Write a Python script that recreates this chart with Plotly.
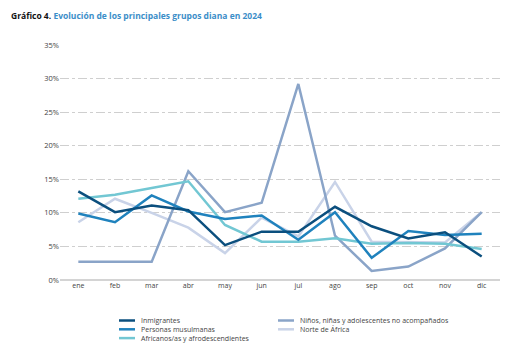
import plotly.graph_objects as go

months = ["ene", "feb", "mar", "abr", "may", "jun", "jul", "ago", "sep", "oct", "nov", "dic"]

inmigrantes = [13.2, 10.1, 11.1, 10.4, 5.2, 7.2, 7.2, 10.9, 8.0, 6.2, 7.1, 3.5]
musulmanas = [9.9, 8.6, 12.6, 10.2, 9.1, 9.6, 6.0, 10.1, 3.3, 7.3, 6.7, 6.9]
africanos = [12.1, 12.7, 13.7, 14.7, 8.2, 5.7, 5.7, 6.2, 5.4, 5.5, 5.4, 4.6]
ninos = [2.7, 2.7, 2.7, 16.2, 10.1, 11.5, 29.2, 6.6, 1.35, 2.0, 4.7, 10.1]
norte_africa = [8.6, 12.1, 10.0, 7.8, 4.0, 9.3, 6.5, 14.6, 5.7, 5.6, 5.6, 10.1]

series_names = ["Inmigrantes", "Personas musulmanas", "Africanos/as y afrodescendientes",
                "Niños, niñas y adolescentes no acompañados", "Norte de África"]
series_values = [inmigrantes, musulmanas, africanos, ninos, norte_africa]
series_colors = ["#0b4f7e", "#1f82bd", "#72c7d3", "#8aa4c8", "#c9d3e8"]

draw_order = [4, 3, 2, 1, 0]

fig = go.Figure()
for i in draw_order:
    fig.add_trace(go.Scatter(
        x=months, y=series_values[i], mode="lines", name=series_names[i],
        line=dict(color=series_colors[i], width=2.5), showlegend=False,
    ))

font_family = "Open Sans, Lato, sans-serif"

OFF = 8  # page body margin
W, H = 515 - OFF, 355 - OFF
L, T = 60 - OFF, 45 - OFF
R = W - (500 - OFF)
B = H - (280 - OFF)
pw, ph = W - L - R, H - T - B

def px2paper(x, y):
    # x, y in screen pixels of the target image
    return (x - OFF - L) / pw, (H - B - (y - OFF)) / ph

fig.update_layout(
    width=W, height=H,
    margin=dict(l=L, r=R, t=T, b=B, autoexpand=False),
    paper_bgcolor="white", plot_bgcolor="white",
    font=dict(family=font_family, size=7.5, color="#444"),
    xaxis=dict(
        type="category", range=[-0.5, 11.5],
        showgrid=False, showline=False, zeroline=False,
        ticks="", tickfont=dict(size=7, color="#444"),
    ),
    yaxis=dict(
        range=[0, 35], dtick=5, ticksuffix="%",
        showgrid=True, gridcolor="#cfcfcf", griddash="dashdot", gridwidth=1,
        zeroline=True, zerolinecolor="#d4d4d4", zerolinewidth=1.5,
        showline=False, ticks="", tickfont=dict(size=7.5, color="#444"),
    ),
    showlegend=False,
)

legend_slots = [(119, 320.5), (119, 329.3), (119, 338.1), (278, 320.5), (278, 329.3)]
for i, (lx, ly) in enumerate(legend_slots):
    x0, y0 = px2paper(lx, ly)
    x1, _ = px2paper(lx + 16, ly)
    fig.add_shape(type="line", xref="paper", yref="paper", x0=x0, x1=x1, y0=y0, y1=y0,
                  line=dict(color=series_colors[i], width=2.5))
    tx, _ = px2paper(lx + 20, ly)
    fig.add_annotation(xref="paper", yref="paper", x=tx, y=y0, xanchor="left", yanchor="middle",
                       showarrow=False, text=series_names[i],
                       font=dict(size=7, color="#444", family=font_family))

tx, ty = px2paper(10, OFF + 1)
fig.add_annotation(
    xref="paper", yref="paper", x=tx, y=ty, xanchor="left", yanchor="top",
    showarrow=False, align="left", borderpad=0,
    text="<b>Gráfico 4.</b> <b><span style='color:#3b8ec8'>Evolución de los principales grupos diana en 2024</span></b>",
    font=dict(size=8.5, color="#111", family=font_family),
)

fig.write_html("out.html")
